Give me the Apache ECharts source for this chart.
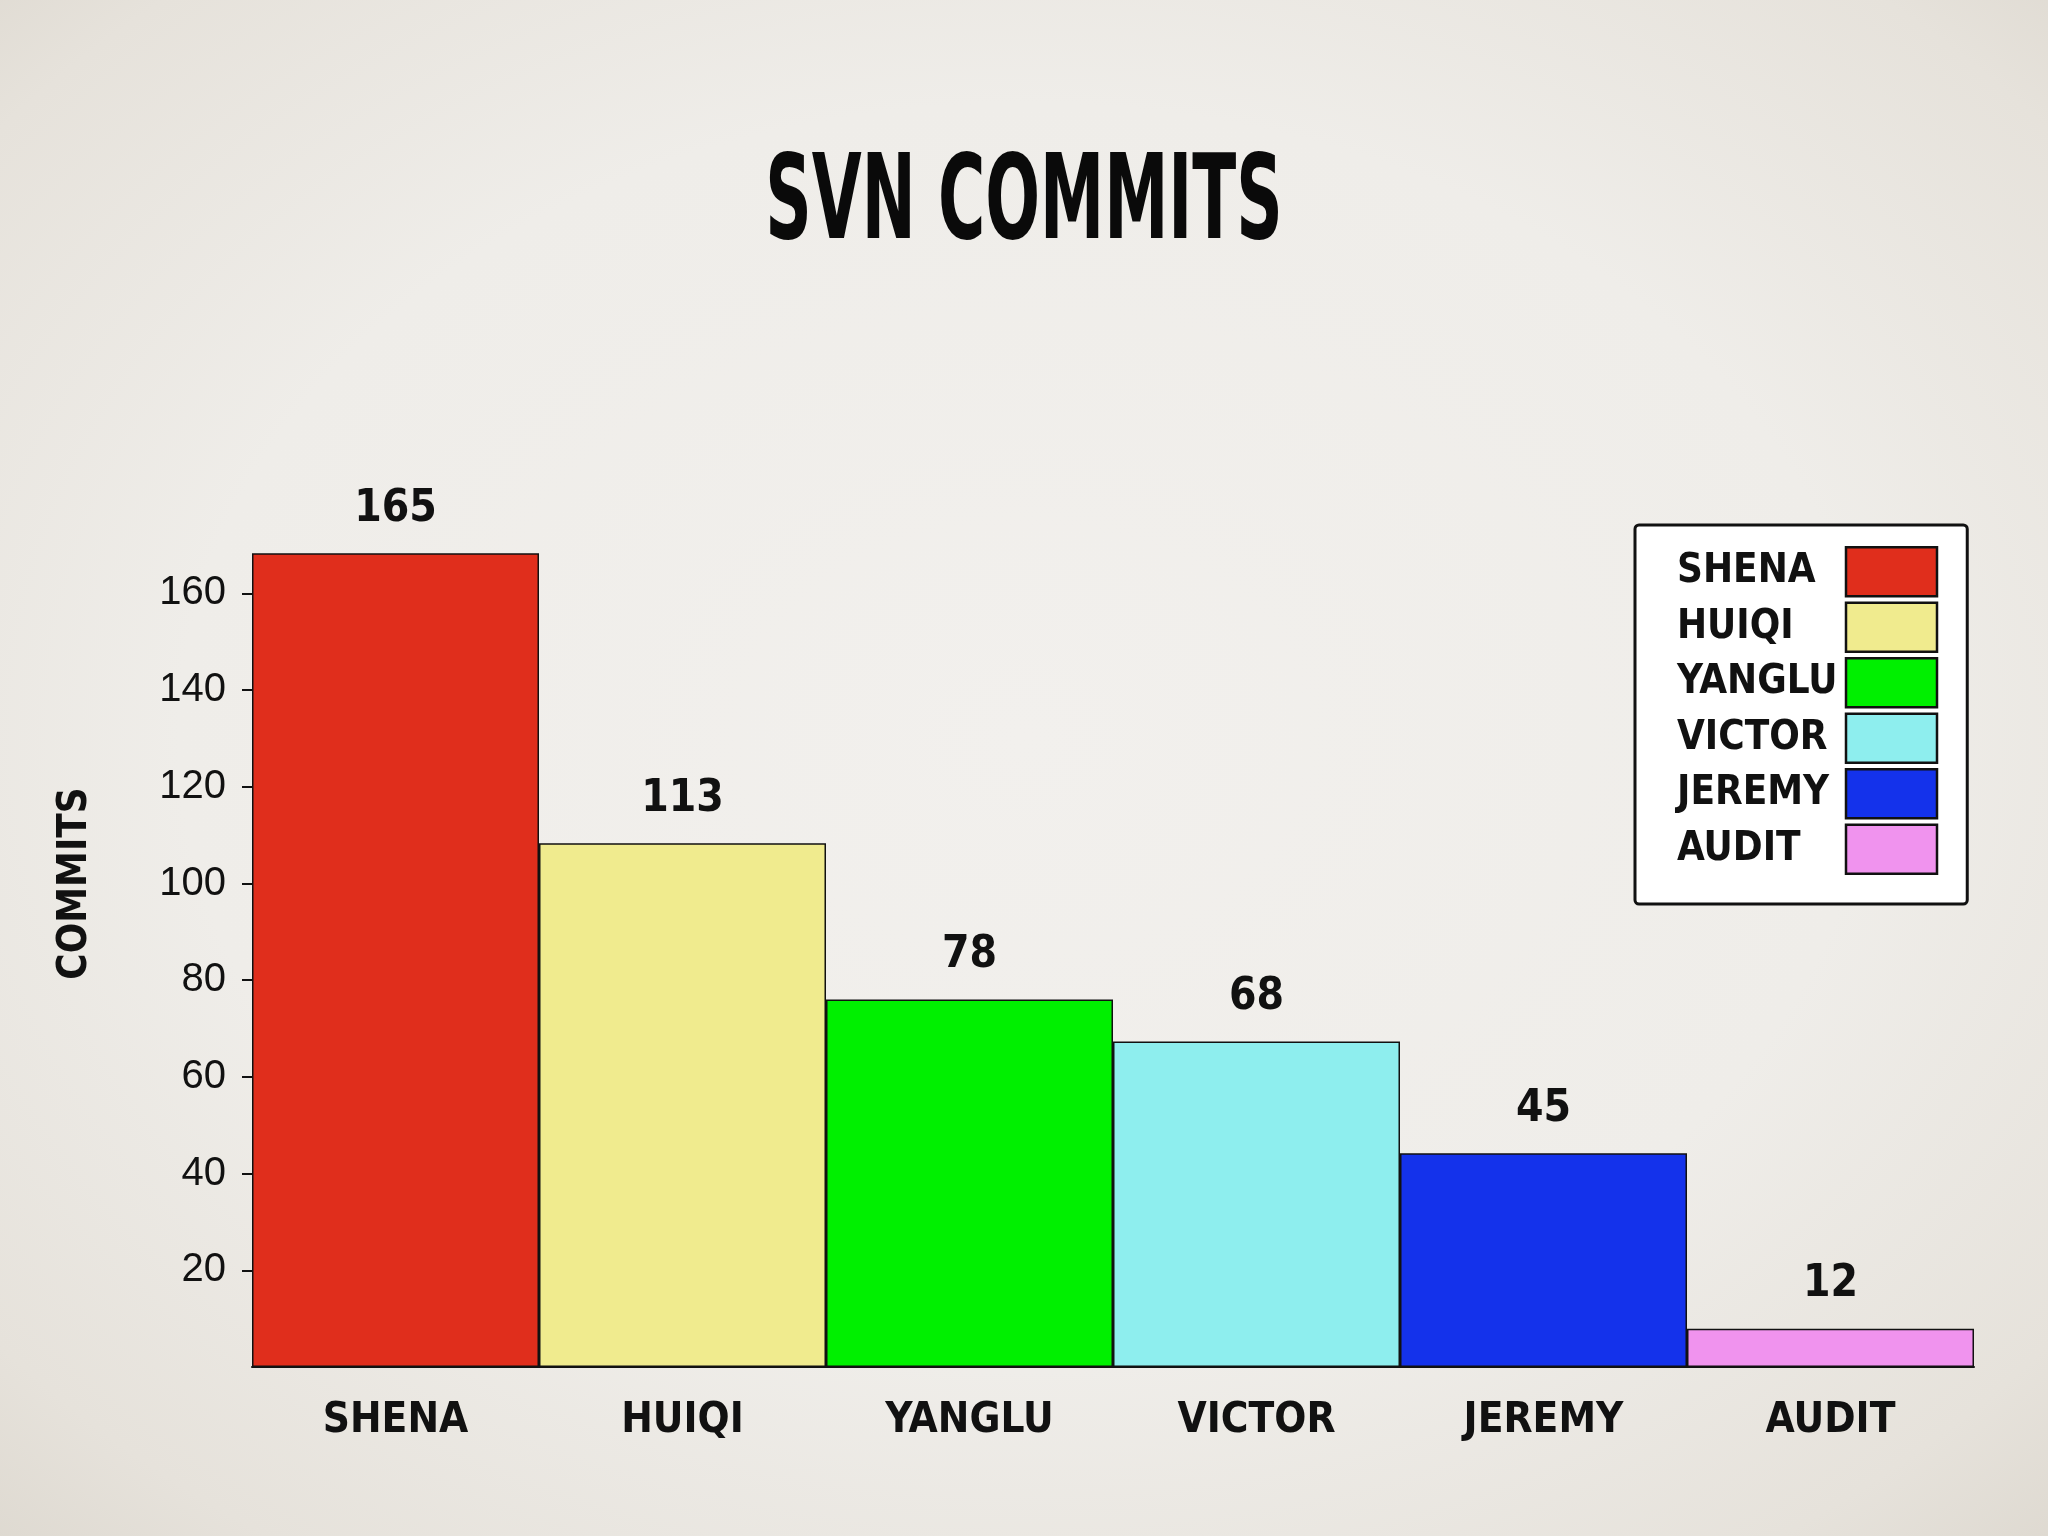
<!DOCTYPE html>
<html>
<head>
<meta charset="utf-8">
<script src="https://cdn.jsdelivr.net/npm/echarts@6/dist/echarts.min.js"></script>
<style>
  html, body { margin: 0; padding: 0; width: 2048px; height: 1536px; overflow: hidden; }
  body { background: radial-gradient(ellipse 75% 75% at 50% 48%, #f2f0ed 0%, #efede9 55%, #e6e2db 85%, #dcd7ce 100%); }
  #chart { width: 2048px; height: 1536px; }
</style>
</head>
<body>
<div id="chart"></div>
<script>
// ---- data ----
const categories = ['SHENA', 'HUIQI', 'YANGLU', 'VICTOR', 'JEREMY', 'AUDIT'];
// bar heights as drawn in the picture
const barValues = [168.3, 108.3, 76.0, 67.3, 44.2, 7.9];
// value labels printed above the bars
const barLabels = ['165', '113', '78', '68', '45', '12'];
const colors = ['#e02e1c', '#f0eb8e', '#00f000', '#8eeeee', '#1432eb', '#f093ee'];
const yTicks = [20, 40, 60, 80, 100, 120, 140, 160];

const narrow = '"Liberation Sans Narrow", "DejaVu Sans Condensed", "Arial Narrow", sans-serif';

const series = categories.map((name, i) => ({
  name: name,
  type: 'bar',
  barGap: '-100%',
  barCategoryGap: '0%',
  data: barValues.map((v, j) => (j === i ? v : '-')),
  itemStyle: { color: colors[i], borderColor: '#111', borderWidth: 1.5 },
  label: {
    show: true,
    position: 'top',
    distance: 22,
    formatter: () => barLabels[i],
    fontFamily: narrow,
    fontWeight: 'bold',
    fontSize: 44,
    color: '#111'
  },
  emphasis: { disabled: true }
}));

const chart = echarts.init(document.getElementById('chart'), null, { renderer: 'canvas' });
chart.setOption({
  backgroundColor: 'transparent',
  animation: false,
  graphic: [{
    type: 'text',
    x: 1024,
    y: 207,
    scaleX: 0.607,
    style: {
      text: 'SVN COMMITS',
      font: 'bold 118px ' + narrow,
      fill: '#0a0a0a',
      textAlign: 'center',
      textVerticalAlign: 'middle'
    }
  }],
  legend: {
    show: true,
    data: categories,
    orient: 'vertical',
    align: 'right',
    left: 1635,
    top: 525,
    padding: [21, 29, 29, 42],
    itemWidth: 91,
    itemHeight: 49,
    itemGap: 4,
    icon: 'rect',
    selectedMode: false,
    backgroundColor: '#ffffff',
    borderColor: '#111',
    borderWidth: 3,
    borderRadius: 4,
    itemStyle: { borderColor: '#111', borderWidth: 2.5 },
    formatter: '{a|{name}}',
    textStyle: {
      color: '#111',
      rich: {
        a: {
          width: 164,
          align: 'left',
          fontFamily: narrow,
          fontWeight: 'bold',
          fontSize: 40,
          color: '#111'
        }
      }
    }
  },
  grid: { left: 252, right: 74, top: 400, bottom: 169, containLabel: false },
  xAxis: {
    type: 'category',
    data: categories,
    axisLine: { show: true, lineStyle: { color: '#111', width: 2 } },
    axisTick: { show: false },
    axisLabel: {
      margin: 33,
      fontFamily: narrow,
      fontWeight: 'bold',
      fontSize: 42,
      color: '#111'
    },
    splitLine: { show: false }
  },
  yAxis: {
    type: 'value',
    min: 0,
    max: 200,
    interval: 20,
    name: 'COMMITS',
    nameLocation: 'middle',
    nameGap: 156,
    nameTextStyle: {
      fontFamily: narrow,
      fontWeight: 'bold',
      fontSize: 40,
      color: '#111'
    },
    axisLine: { show: false },
    axisTick: {
      show: true,
      length: 10,
      customValues: yTicks,
      lineStyle: { color: '#111', width: 2 }
    },
    axisLabel: {
      margin: 26,
      customValues: yTicks,
      fontFamily: '"Liberation Sans", Arial, sans-serif',
      fontSize: 40,
      color: '#111'
    },
    splitLine: { show: false }
  },
  series: series
});
</script>
</body>
</html>
